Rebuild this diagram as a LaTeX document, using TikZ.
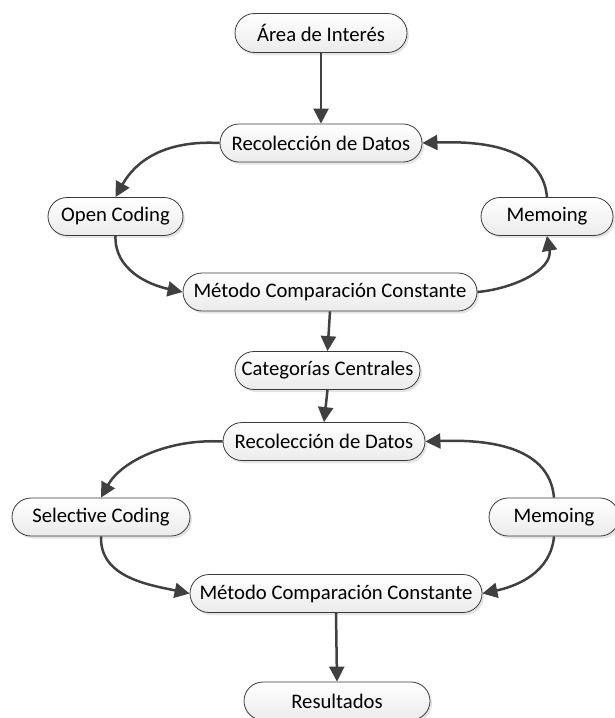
\documentclass[tikz,border=0pt]{standalone}
\usepackage{fontspec}
\setmainfont{Carlito}
\usetikzlibrary{arrows.meta,shadows,shapes.misc}
\definecolor{linec}{HTML}{404040}
\definecolor{borderc}{HTML}{3A3A3A}
\tikzset{
  box/.style={rounded rectangle, draw=borderc, line width=0.8pt,
    top color=white, bottom color=gray!16,
    drop shadow={shadow xshift=2pt,shadow yshift=-2.5pt,opacity=0.3,fill=gray!70},
    minimum height=38pt, inner sep=0pt,
    font=\fontsize{20.7}{24}\selectfont, text=black},
  conn/.style={draw=linec, line width=2.5pt, -{Triangle[length=15pt,width=15pt]}},
}
\begin{document}
\begin{tikzpicture}[x=1pt,y=-1pt]
\path[use as bounding box] (0,0) rectangle (615,718);
\node[box, minimum width=172pt, minimum height=39pt] (area) at (321,33) {Área de Interés};
\node[box, minimum width=202pt] (rec1) at (321,143) {Recolección de Datos};
\node[box, minimum width=135pt] (open) at (115.5,216.5) {Open Coding};
\node[box, minimum width=132pt] (memo1) at (547,216.5) {Memoing};
\node[box, minimum width=294pt] (met1) at (330,292) {Método Comparación Constante};
\node[box, minimum width=185pt] (cat) at (327.5,370.5) {Categorías Centrales};
\node[box, minimum width=202pt] (rec2) at (324,441.5) {Recolección de Datos};
\node[box, minimum width=178pt] (sel) at (101,517) {Selective Coding};
\node[box, minimum width=130pt] (memo2) at (554,517) {Memoing};
\node[box, minimum width=292pt] (met2) at (336,593.5) {Método Comparación Constante};
\node[box, minimum width=186pt] (res) at (337,701) {Resultados};

\draw[conn] (area.south) -- (rec1.north);
\draw[conn] (rec1.west) .. controls +(-55,-3) and +(20,-36) .. (open.north);
\draw[conn] (open.south) to[out=-92,in=168] (met1.west);
\draw[conn] (met1.east) to[out=5,in=-80] (memo1.south);
\draw[conn] (memo1.north) to[out=95,in=2] (rec1.east);
\draw[conn] (met1.south) -- (cat.north);
\draw[conn] (cat.south) -- (rec2.north);
\draw[conn] (rec2.west) .. controls +(-55,-3) and +(20,-36) .. (sel.north);
\draw[conn] (sel.south) to[out=-92,in=168] (met2.west);
\draw[conn] (memo2.south) to[out=-95,in=12] (met2.east);
\draw[conn] (memo2.north) to[out=95,in=2] (rec2.east);
\draw[conn] (met2.south) -- (res.north);
\end{tikzpicture}
\end{document}
